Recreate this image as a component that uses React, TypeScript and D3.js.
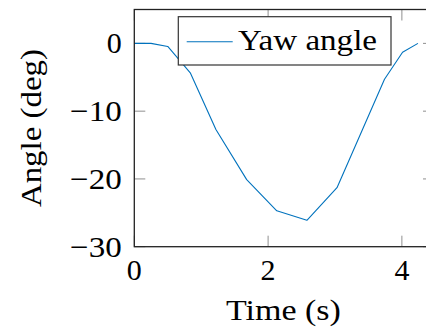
import React from "react";
import * as d3 from "d3";

// Yaw angle over time
const time: number[] = [0, 0.25, 0.5, 0.84, 1.22, 1.68, 2.13, 2.58, 3.03, 3.74, 4.01, 4.24];
const yaw: number[] = [0, 0, -0.45, -4.4, -12.7, -20.1, -24.7, -26.1, -21.3, -5.3, -1.3, 0];

const xTicks: number[] = [0, 2, 4];
const yTicks: number[] = [0, -10, -20, -30];
const yTickLabels: string[] = ["0", "\u221210", "\u221220", "\u221230"];

const seriesName = "Yaw angle";
const xLabel = "Time (s)";
const yLabel = "Angle (deg)";

const W = 426;
const H = 335;
const left = 134.3;
const top = 9.5;
const bottom = 246.7;
const right = 434;

const FONT = '"Liberation Serif", "Times New Roman", serif';
const FS = 30;
const textStyle: React.CSSProperties = { fontFamily: FONT, fontSize: FS };

export default function App() {
  const x = d3.scaleLinear().domain([0, 4.48]).range([left, right]);
  const y = d3.scaleLinear().domain([-30, 5]).range([bottom, top]);

  const pts = time.map((t, i) => [t, yaw[i]] as [number, number]);
  const line = d3
    .line<[number, number]>()
    .x((d) => x(d[0]))
    .y((d) => y(d[1]));

  const tickLen = 11;
  const tickColor = "#8f8f8f";

  return (
    <svg
      width={W}
      height={H}
      style={{ position: "absolute", left: 0, top: 0, background: "#fff" }}
    >
      {/* ticks on all four sides, pointing inward */}
      {xTicks.map((t) => (
        <g key={"xt" + t}>
          <line x1={x(t)} x2={x(t)} y1={bottom} y2={bottom - tickLen} stroke={tickColor} strokeWidth={1} />
          <line x1={x(t)} x2={x(t)} y1={top} y2={top + tickLen} stroke={tickColor} strokeWidth={1} />
        </g>
      ))}
      {yTicks.map((t) => (
        <g key={"yt" + t}>
          <line x1={left} x2={left + tickLen} y1={y(t)} y2={y(t)} stroke={tickColor} strokeWidth={1} />
          <line x1={right} x2={right - tickLen} y1={y(t)} y2={y(t)} stroke={tickColor} strokeWidth={1} />
        </g>
      ))}

      {/* data line */}
      <path d={line(pts) || ""} fill="none" stroke="#0072bd" strokeWidth={1.1} strokeLinejoin="round" />

      {/* axis frame */}
      <rect x={left} y={top} width={right - left} height={bottom - top} fill="none" stroke="#222" strokeWidth={1.3} />

      {/* tick labels */}
      {xTicks.map((t) => (
        <text key={"xl" + t} x={x(t)} y={279.5} textAnchor="middle" style={textStyle} fill="#000">
          {String(t)}
        </text>
      ))}
      {yTicks.map((t, i) => (
        <text
          key={"yl" + t}
          x={121.7}
          y={y(t) + 9.8}
          textAnchor="end"
          style={textStyle}
          fill="#000"
          textLength={i === 0 ? undefined : 51.7}
          lengthAdjust="spacingAndGlyphs"
        >
          {yTickLabels[i]}
        </text>
      ))}

      {/* axis labels */}
      <text x={283.4} y={320} textAnchor="middle" style={textStyle} fill="#000" textLength={115} lengthAdjust="spacingAndGlyphs">
        {xLabel}
      </text>
      <text
        transform={`translate(40.5, ${(top + bottom) / 2}) rotate(-90)`}
        textAnchor="middle"
        style={textStyle}
        fill="#000"
        textLength={158}
        lengthAdjust="spacingAndGlyphs"
      >
        {yLabel}
      </text>

      {/* legend */}
      <g>
        <rect x={178.3} y={16.7} width={391 - 178.3} height={65 - 16.7} fill="#fff" stroke="#333" strokeWidth={1.2} />
        <line x1={186.7} x2={232.7} y1={41.7} y2={41.7} stroke="#0072bd" strokeWidth={1.1} />
        <text x={238} y={49.5} style={textStyle} fill="#000" textLength={139} lengthAdjust="spacingAndGlyphs">
          {seriesName}
        </text>
      </g>
    </svg>
  );
}
